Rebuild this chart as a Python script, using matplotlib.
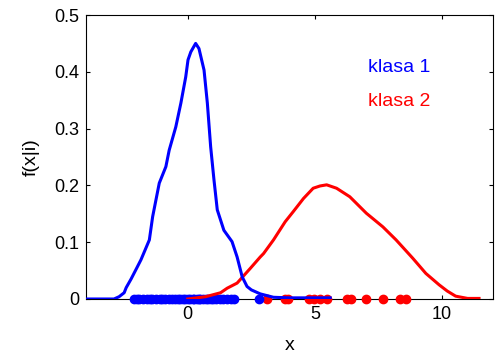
import matplotlib
matplotlib.use("Agg")
import matplotlib.pyplot as plt

plt.rcParams['font.family'] = ['Liberation Sans', 'DejaVu Sans']

# Class 1 density curve
x1 = [-4.0, -3.2, -2.9, -2.7, -2.5, -2.42, -2.23, -2.0, -1.84, -1.51, -1.38, -1.12, -0.86,
      -0.73, -0.47, -0.27, -0.08, 0.01, 0.12, 0.31, 0.44, 0.64, 0.77, 0.90, 1.03, 1.16,
      1.42, 1.74, 1.94, 2.14, 2.33, 2.5, 2.85, 3.37, 4.0, 5.0, 5.6]
f1 = [0.0, 0.0, 0.0, 0.004, 0.011, 0.02, 0.035, 0.055, 0.069, 0.104, 0.145, 0.204, 0.233,
      0.262, 0.303, 0.345, 0.391, 0.421, 0.435, 0.450, 0.441, 0.403, 0.345, 0.268, 0.210, 0.157,
      0.121, 0.101, 0.074, 0.039, 0.022, 0.016, 0.009, 0.003, 0.002, 0.002, 0.002]

# Class 2 density curve
x2 = [0.0, 0.7, 1.29, 1.55, 1.94, 2.46, 2.85, 2.98, 3.37, 3.83, 4.15, 4.55, 4.93, 5.2, 5.46,
      5.85, 6.37, 7.02, 7.67, 8.19, 8.84, 9.36, 9.88, 10.2, 10.53, 11.0, 11.45]
f2 = [0.0, 0.004, 0.011, 0.019, 0.028, 0.054, 0.074, 0.080, 0.104, 0.136, 0.154, 0.177, 0.195,
      0.199, 0.201, 0.195, 0.180, 0.151, 0.127, 0.104, 0.072, 0.045, 0.025, 0.014, 0.005, 0.001, 0.001]

# Samples
s1 = [-2.1, -2.0, -1.9, -1.75, -1.6, -1.5, -1.4, -1.25, -1.1, -1.0, -0.9, -0.75, -0.6, -0.5,
      -0.4, -0.3, -0.2, -0.1, 0.0, 0.1, 0.2, 0.25, 0.35, 0.45, 0.5, 0.6, 0.7, 0.8, 0.9, 1.0,
      1.1, 1.25, 1.4, 1.55, 1.7, 1.8, 2.8]
s2 = [3.1, 3.82, 3.95, 4.78, 4.98, 5.2, 5.48, 6.25, 6.4, 7.02, 7.67, 8.35, 8.58]

xticks = [0, 5, 10]
yticks = [0, 0.1, 0.2, 0.3, 0.4, 0.5]
yticklabels = ['0', '0.1', '0.2', '0.3', '0.4', '0.5']

fig = plt.figure(figsize=(4.98, 3.54), dpi=100)
ax = fig.add_axes([0.1727, 0.1554, 0.8173, 0.8022])

ax.plot(s2, [0] * len(s2), 'o', color='red', ms=6, clip_on=False, zorder=3)
ax.plot(s1, [0] * len(s1), 'o', color='blue', ms=6, clip_on=False, zorder=3)
ax.plot(x2, f2, color='red', lw=2.2, zorder=4)
ax.plot(x1, f1, color='blue', lw=2.2, zorder=5)

ax.text(7.07, 0.407, 'klasa 1', color='blue', fontsize=14, va='center', ha='left')
ax.text(7.07, 0.347, 'klasa 2', color='red', fontsize=14, va='center', ha='left')

ax.set_xlim(-4, 12)
ax.set_ylim(0, 0.5)
ax.set_xticks(xticks)
ax.set_yticks(yticks)
ax.set_yticklabels(yticklabels)
ax.tick_params(direction='in', length=3, width=0.8, labelsize=13, top=True, right=True, pad=5)
ax.set_xlabel('x', fontsize=14, labelpad=10)
ax.set_ylabel('f(x|i)', fontsize=14, labelpad=10)
for sp in ax.spines.values():
    sp.set_linewidth(0.8)

fig.savefig('out.png', dpi=100)
